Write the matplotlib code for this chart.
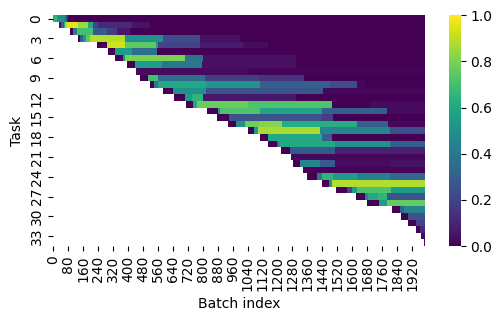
import numpy as np
import matplotlib
matplotlib.use("Agg")
import matplotlib.pyplot as plt
import seaborn as sns

n_batches = 1990
tick_step_x = 80
tick_step_y = 3

# One entry per task: (first batch of a stretch, value in that stretch)
task_0 = [(0, .65), (20, .55), (30, .5), (62, .3), (72, .12), (80, 0)]
task_1 = [(30, .05), (40, .3), (57, .6), (65, .88), (72, .96), (130, .85), (185, .6), (215, .2), (240, .11), (420, .05), (520, 0)]
task_2 = [(90, 0), (105, .4), (125, .7), (212, .28), (290, .18), (340, .06), (410, 0)]
task_3 = [(132, 0), (145, .3), (160, .55), (175, .75), (195, .89), (383, .5), (586, .23), (785, .04), (1000, 0)]
task_4 = [(234, 0), (287, .93), (383, .75), (548, .55), (560, .2), (785, .07), (1015, .03), (1150, 0)]
task_5 = [(293, 0), (330, .55), (420, .36), (555, 0)]
task_6 = [(330, 0), (373, .5), (383, .8), (705, .38), (800, .04), (1300, 0)]
task_7 = [(394, 0), (436, .55), (580, .4), (795, .04), (1300, 0)]
task_8 = [(442, .03), (1050, .01)]
task_9 = [(463, 0), (506, .7), (560, .35), (811, .18), (1100, .15), (1340, 0)]
task_10 = [(517, 0), (540, .4), (560, .6), (820, .52), (1105, .3), (1480, .23), (1625, .02), (1670, 0)]
task_11 = [(587, 0), (640, .5), (820, .26), (1445, .02)]
task_12 = [(646, 0), (705, .55), (740, .65), (800, .06), (1300, 0)]
task_13 = [(708, 0), (746, .6), (770, .77), (1040, .72), (1490, 0), (1700, .03)]
task_14 = [(821, 0), (881, .5), (890, .72), (1105, .58), (1436, .3), (1785, .03)]
task_15 = [(875, 0), (940, .25), (1437, .18), (1497, 0)]
task_16 = [(934, 0), (980, .5), (1025, .78), (1100, .82), (1223, .62), (1625, .3), (1790, .02)]
task_17 = [(1042, 0), (1074, .55), (1095, .87), (1427, .45), (1800, .24)]
task_18 = [(1106, 0), (1150, .6), (1437, .3), (1490, 0)]
task_19 = [(1150, 0), (1196, .35), (1210, .6), (1507, .5), (1800, .3)]
task_20 = [(1218, 0), (1266, .28), (1507, .09)]
task_21 = [(1272, .02)]
task_22 = [(1282, 0), (1320, .45), (1427, .28), (1507, .03), (1800, .05)]
task_23 = [(1336, .01)]
task_24 = [(1357, 0), (1410, .4), (1437, .65), (1497, .55), (1625, .43), (1800, .33)]
task_25 = [(1437, 0), (1475, .5), (1490, .88)]
task_26 = [(1512, 0), (1570, .2), (1600, .55), (1625, .72), (1810, .55)]
task_27 = [(1623, 0), (1667, .45), (1683, .6), (1740, .65), (1785, .26)]
task_28 = [(1677, 0), (1742, .55), (1785, .76)]
task_29 = [(1812, 0), (1855, .3), (1880, .45)]
task_30 = [(1860, 0), (1897, .25)]
task_31 = [(1897, 0), (1943, .2)]
task_32 = [(1940, 0), (1965, .12)]
task_33 = [(1968, .03)]
task_34 = [(1985, .02)]

tasks = [task_0, task_1, task_2, task_3, task_4, task_5, task_6, task_7, task_8,
         task_9, task_10, task_11, task_12, task_13, task_14, task_15, task_16,
         task_17, task_18, task_19, task_20, task_21, task_22, task_23, task_24,
         task_25, task_26, task_27, task_28, task_29, task_30, task_31, task_32,
         task_33, task_34]

matrix = np.full((len(tasks), n_batches), np.nan)
for row, stretches in enumerate(tasks):
    for k, (first, value) in enumerate(stretches):
        last = stretches[k + 1][0] if k + 1 < len(stretches) else n_batches
        matrix[row, first:last] = value

W, H = 501, 321
fig = plt.figure(figsize=(W / 100, H / 100), dpi=100)
ax = fig.add_axes([53.3 / W, 1 - 246 / H, (425 - 53.3) / W, (246 - 15.3) / H])
cax = fig.add_axes([449 / W, 1 - 246 / H, 11.5 / W, (246 - 15.3) / H])

sns.heatmap(matrix, ax=ax, cbar_ax=cax, cmap="viridis", vmin=0, vmax=1,
            xticklabels=tick_step_x, yticklabels=tick_step_y)
ax.set_xlabel("Batch index")
ax.set_ylabel("Task")
ax.tick_params(axis="x", labelrotation=90)
ax.tick_params(axis="y", labelrotation=90)
for lab in ax.get_yticklabels():
    lab.set_va("center")

fig.savefig("out.png", dpi=100)
